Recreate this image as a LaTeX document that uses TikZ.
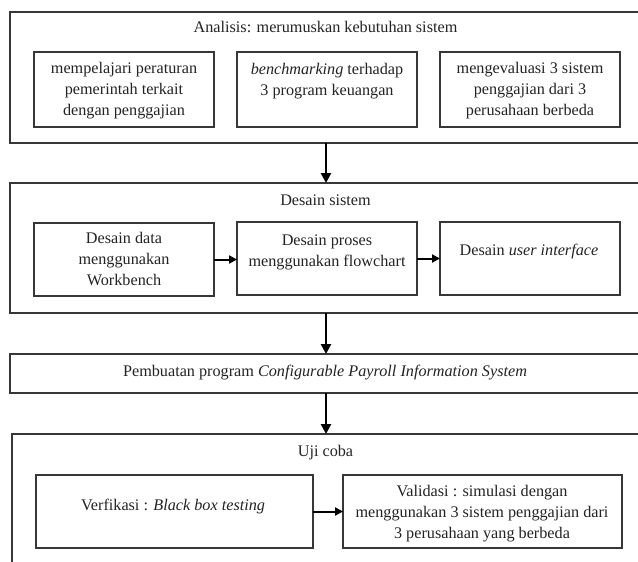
\documentclass[tikz,border=0pt]{standalone}
\usepackage{fontspec}
\setmainfont{Liberation Serif}
\usetikzlibrary{arrows.meta}
\definecolor{edge}{RGB}{55,55,55}
\definecolor{ink}{RGB}{35,35,35}
\begin{document}
\begin{tikzpicture}[x=1pt,y=-1pt,
  box/.style 2 args={draw=edge, line width=1.1pt, inner sep=0pt, outer sep=0pt,
    anchor=north west, minimum width=#1, minimum height=#2},
  txt/.style={font=\fontsize{16.2}{21}\selectfont, text=ink, inner sep=0pt, align=center},
  varr/.style={draw=black, line width=2.6pt, -{Triangle[length=10pt,width=10pt]}},
  harr/.style={draw=black, line width=2pt, -{Triangle[length=8pt,width=8pt]}}
]
\useasboundingbox (0,0) rectangle (638,562);
\clip (0,0) rectangle (638,562);
\coordinate (axis) at (326,0);

% outer frames
\node[box={690pt}{131pt}] (analisis) at (10,12) {};
\node[box={690pt}{130pt}] (desain) at (10,183) {};
\node[box={690pt}{39pt}] (pembuatan) at (10,354) {};
\node[box={688pt}{160pt}] (ujicoba) at (12,434) {};

% titles
\node[txt,anchor=base] (tAnalisis) at (325.5,32) {Analisis: merumuskan kebutuhan sistem};
\node[txt,anchor=base] (tDesain) at (325.5,205) {Desain sistem};
\node[txt,anchor=base] (tPembuatan) at (325,376) {Pembuatan program \textit{Configurable Payroll Information System}};
\node[txt,anchor=base] (tUji) at (325.5,456) {Uji coba};

% row 1
\node[box={180pt}{75pt}] (a1) at (34,52) {};
\node[box={180pt}{75pt}] (a2) at (237,52) {};
\node[box={180pt}{75pt}] (a3) at (440,52) {};
\node[txt,anchor=north] (ta1) at (124,58.3) {\strut mempelajari peraturan\\pemerintah terkait\\dengan penggajian};
\node[txt,anchor=north] (ta2) at (327,59.3) {\strut\textit{benchmarking} terhadap\\3 program keuangan};
\node[txt,anchor=north] (ta3) at (530,58.8) {\strut mengevaluasi 3 sistem\\penggajian dari 3\\perusahaan berbeda};

% row 2
\node[box={180pt}{73pt}] (d1) at (34,223) {};
\node[box={180pt}{73pt}] (d2) at (237,222) {};
\node[box={180pt}{73pt}] (d3) at (440,222) {};
\node[txt,anchor=north] (td1) at (124,228.3) {\strut Desain data\\menggunakan\\Workbench};
\node[txt,anchor=north] (td2) at (327,230.3) {\strut Desain proses\\menggunakan flowchart};
\node[txt,anchor=base] (td3) at (529,255) {Desain \textit{user interface}};

% row 4
\node[box={277pt}{73pt}] (u1) at (36,475) {};
\node[box={279pt}{73pt}] (u2) at (343,475) {};
\node[txt,anchor=base] (tu1) at (173,510) {Verfikasi : \textit{Black box testing}};
\node[txt,anchor=north] (tu2) at (482,481.3) {\strut Validasi : simulasi dengan\\menggunakan 3 sistem penggajian dari\\3 perusahaan yang berbeda};

% connectors
\draw[varr] (analisis.south -| axis) -- (desain.north -| axis);
\draw[varr] (desain.south -| axis) -- (pembuatan.north -| axis);
\draw[varr] (pembuatan.south -| axis) -- (ujicoba.north -| axis);
\draw[harr] (d1.east) -- (d1.east -| d2.west);
\draw[harr] (d2.east) -- (d2.east -| d3.west);
\draw[harr] (u1.east) -- (u2.west);
\end{tikzpicture}
\end{document}
